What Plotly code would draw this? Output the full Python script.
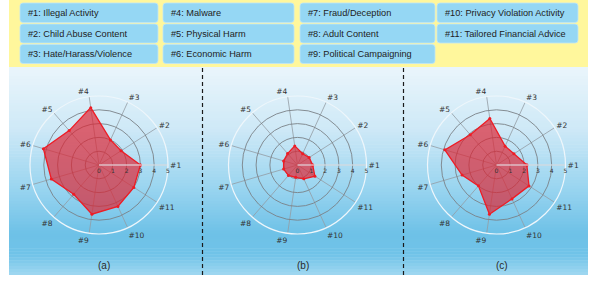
import plotly.graph_objects as go

# ---------------- data ----------------
categories = ["#1", "#2", "#3", "#4", "#5", "#6", "#7", "#8", "#9", "#10", "#11"]
legend_labels = [
    "#1: Illegal Activity", "#2: Child Abuse Content", "#3: Hate/Harass/Violence",
    "#4: Malware", "#5: Physical Harm", "#6: Economic Harm",
    "#7: Fraud/Deception", "#8: Adult Content", "#9: Political Campaigning",
    "#10: Privacy Violation Activity", "#11: Tailored Financial Advice",
]
values_a = [3.0, 1.9, 2.0, 4.2, 3.3, 4.2, 3.6, 2.8, 3.6, 3.3, 3.0]
values_b = [1.1, 1.0, 0.9, 1.4, 1.1, 1.05, 1.05, 1.0, 0.9, 1.1, 1.5]
values_c = [2.2, 1.5, 1.5, 3.4, 2.9, 3.9, 2.6, 2.0, 3.6, 2.7, 2.8]
panel_labels = ["(a)", "(b)", "(c)"]
radial_ticks = [0, 1, 2, 3, 4, 5]

W, H = 598, 281

def px_x(x):
    return x / W

def px_y(y):
    return (H - y) / H

fig = go.Figure()

# ---------------- backgrounds ----------------
shapes = []
# yellow band
shapes.append(dict(type="rect", xref="paper", yref="paper",
                   x0=px_x(9), x1=px_x(588), y0=px_y(67), y1=px_y(0),
                   fillcolor="#fff79c", line=dict(width=0), layer="below"))

# blue gradient panel
stops = [(0.0, (234, 245, 251)), (0.3, (206, 233, 247)), (0.6, (150, 211, 239)),
         (0.8, (110, 193, 231)), (0.9, (112, 195, 232)), (1.0, (160, 216, 241))]

def interp(t):
    for i in range(len(stops) - 1):
        t0, c0 = stops[i]
        t1, c1 = stops[i + 1]
        if t0 <= t <= t1:
            f = (t - t0) / (t1 - t0) if t1 > t0 else 0
            return tuple(int(round(c0[k] + f * (c1[k] - c0[k]))) for k in range(3))
    return stops[-1][1]

top, bot = 67, 275
n = 70
for i in range(n):
    y0 = top + (bot - top) * i / n
    y1 = top + (bot - top) * (i + 1) / n + 0.6
    c = interp((i + 0.5) / n)
    shapes.append(dict(type="rect", xref="paper", yref="paper",
                       x0=px_x(9), x1=px_x(588), y0=px_y(min(y1, bot)), y1=px_y(y0),
                       fillcolor="rgb(%d,%d,%d)" % c, line=dict(width=0), layer="below"))

# dashed separators
for xs in (202.5, 403.5):
    shapes.append(dict(type="line", xref="paper", yref="paper",
                       x0=px_x(xs), x1=px_x(xs), y0=px_y(275), y1=px_y(68),
                       line=dict(color="#1a1a1a", width=1.2, dash="4px,3px")))

# legend boxes (rounded)
def rounded(x0, y0, x1, y1, r=3):
    rx, ry = r / W, r / H
    X0, X1 = px_x(x0), px_x(x1)
    Yt, Yb = px_y(y0), px_y(y1)
    return (f"M {X0+rx},{Yt} L {X1-rx},{Yt} Q {X1},{Yt} {X1},{Yt-ry} "
            f"L {X1},{Yb+ry} Q {X1},{Yb} {X1-rx},{Yb} "
            f"L {X0+rx},{Yb} Q {X0},{Yb} {X0},{Yb+ry} "
            f"L {X0},{Yt-ry} Q {X0},{Yt} {X0+rx},{Yt} Z")

col_x = [(20, 158), (163, 294), (300, 435), (437, 578)]
row_y = [(3, 22.5), (24, 43), (44.5, 63.5)]
annotations = []
positions = []
for ci in range(4):
    for ri in range(3):
        positions.append((ci, ri))
for idx, label in enumerate(legend_labels):
    ci, ri = positions[idx]
    x0, x1 = col_x[ci]
    y0, y1 = row_y[ri]
    shapes.append(dict(type="path", xref="paper", yref="paper",
                       path=rounded(x0, y0, x1, y1),
                       fillcolor="#95d7f4", line=dict(color="#bfe6f7", width=0.8)))
    annotations.append(dict(text=label, xref="paper", yref="paper",
                            x=px_x(x0 + 6), y=px_y((y0 + y1) / 2),
                            xanchor="left", yanchor="middle", showarrow=False,
                            font=dict(family="Liberation Sans, Arial", size=9.2, color="#222222")))

# ---------------- radar charts ----------------
centers = [(99, 165), (297.5, 165), (496.5, 165)]
R = 69
series = [values_a, values_b, values_c]
for k, (vals, (cx, cy)) in enumerate(zip(series, centers)):
    pname = "polar" if k == 0 else f"polar{k+1}"
    fig.add_trace(go.Scatterpolar(
        r=vals + vals[:1], theta=categories + categories[:1],
        mode="lines+markers", fill="toself",
        fillcolor="rgba(222,34,48,0.68)",
        line=dict(color="#ee1c25", width=1.3),
        marker=dict(color="#ee1c25", size=3),
        subplot=pname, showlegend=False, hoverinfo="skip"))
    fig.layout[pname] = dict(
        domain=dict(x=[px_x(cx - R), px_x(cx + R)], y=[px_y(cy + R), px_y(cy - R)]),
        bgcolor="rgba(0,0,0,0)",
        angularaxis=dict(rotation=0, direction="counterclockwise",
                         categoryorder="array", categoryarray=categories,
                         gridcolor="#939ca3", gridwidth=0.8,
                         linecolor="#eef6fb", linewidth=1.2, showline=True,
                         ticks="", tickfont=dict(family="DejaVu Sans", size=7.5, color="#333333")),
        radialaxis=dict(range=[0, 5], tickvals=radial_ticks, angle=0,
                        showline=True, linecolor="#e9f3f9", linewidth=1.2,
                        gridcolor="#7a8187", gridwidth=0.9, ticks="",
                        tickfont=dict(family="DejaVu Sans", size=6, color="#333333")),
    )
    annotations.append(dict(text=panel_labels[k], xref="paper", yref="paper",
                            x=px_x(cx + 5), y=px_y(265), showarrow=False,
                            xanchor="center", yanchor="middle",
                            font=dict(family="Liberation Sans, Arial", size=10, color="#2a2a2a")))

fig.update_layout(width=W, height=H, margin=dict(l=0, r=0, t=0, b=0),
                  paper_bgcolor="white", plot_bgcolor="white",
                  shapes=shapes, annotations=annotations, showlegend=False)

fig.write_html("out.html", config={"displayModeBar": False, "staticPlot": True},
               post_script="document.body.style.margin='0';document.body.style.overflow='hidden';")
